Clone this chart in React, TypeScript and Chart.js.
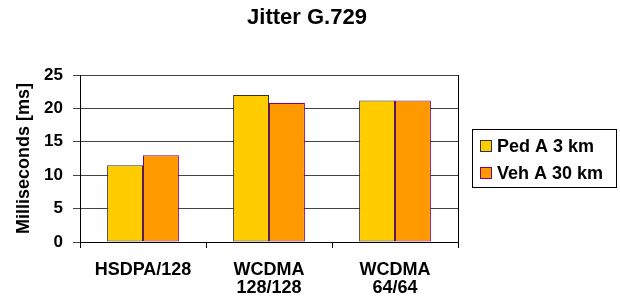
import { useEffect, useRef } from "react";
import { Chart, registerables } from "chart.js";

Chart.register(...registerables);

const categories = [["HSDPA/128"], ["WCDMA", "128/128"], ["WCDMA", "64/64"]];
const seriesNames = ["Ped A 3 km", "Veh A 30 km"];
const pedA = [11.5, 22.0, 21.2];
const vehA = [13.0, 20.8, 21.2];
const yMin = 0;
const yMax = 25;
const yStep = 5;
const chartTitle = "Jitter G.729";
const yTitle = "Milliseconds [ms]";

const FONT = '"Liberation Sans", Arial, Helvetica, sans-serif';

export default function App() {
  const ref = useRef<HTMLCanvasElement>(null);

  useEffect(() => {
    if (!ref.current) return;

    const legendPlugin = {
      id: "boxLegend",
      afterDraw(chart: any) {
        const { ctx } = chart;
        const left = 472.5;
        const top = 129.5;
        const w = 144;
        const h = 58;
        ctx.save();
        ctx.fillStyle = "#fff";
        ctx.fillRect(left, top, w, h);
        ctx.strokeStyle = "#000";
        ctx.lineWidth = 1;
        ctx.strokeRect(left, top, w, h);
        ctx.font = `bold 18px ${FONT}`;
        ctx.textBaseline = "middle";
        ctx.textAlign = "left";
        chart.data.datasets.forEach((ds: any, i: number) => {
          const cy = top + 16.5 + i * 27;
          ctx.fillStyle = ds.backgroundColor;
          ctx.fillRect(left + 8, cy - 5.5, 11, 11);
          ctx.strokeStyle = ds.borderColor;
          ctx.strokeRect(left + 8, cy - 5.5, 11, 11);
          ctx.fillStyle = "#000";
          ctx.fillText(ds.label, left + 24.5, cy + 1);
        });
        ctx.restore();
      },
    };

    const chart = new Chart(ref.current, {
      type: "bar",
      data: {
        labels: categories,
        datasets: [
          {
            label: seriesNames[0],
            data: pedA,
            backgroundColor: "#FFCC00",
            borderColor: "#333333",
            borderWidth: 1,
          },
          {
            label: seriesNames[1],
            data: vehA,
            backgroundColor: "#FF9900",
            borderColor: "#800080",
            borderWidth: 1,
          },
        ],
      },
      options: {
        responsive: false,
        animation: false,
        devicePixelRatio: 1,
        layout: { padding: { left: 0, right: 6, top: 0, bottom: 0 } },
        datasets: {
          bar: { categoryPercentage: 0.57, barPercentage: 1.0, borderSkipped: false },
        },
        plugins: {
          legend: { display: false },
          tooltip: { enabled: false },
          title: {
            display: true,
            text: chartTitle,
            color: "#000",
            font: { family: FONT, size: 22, weight: "bold" },
            padding: { top: 5, bottom: 43.6 },
          },
        },
        scales: {
          x: {
            afterFit(scale: any) {
              scale.height = 58;
            },
            grid: {
              display: true,
              drawOnChartArea: false,
              offset: true,
              tickLength: 6,
              color: "#000",
            },
            border: { display: true, color: "#000" },
            ticks: {
              color: "#000",
              maxRotation: 0,
              padding: 13,
              font: { family: FONT, size: 18, weight: "bold", lineHeight: 1.0 },
            },
          },
          y: {
            min: yMin,
            max: yMax,
            afterFit(scale: any) {
              scale.width = 80;
            },
            ticks: {
              stepSize: yStep,
              color: "#000",
              padding: 10,
              font: { family: FONT, size: 17, weight: "bold" },
            },
            grid: { color: "#444", tickLength: 7, lineWidth: 1 },
            border: { display: true, color: "#000" },
            title: {
              display: true,
              text: yTitle,
              color: "#000",
              padding: { top: 13, bottom: 0 },
              font: { family: FONT, size: 18, weight: "bold" },
            },
          },
          frame: {
            type: "linear",
            position: "right",
            min: yMin,
            max: yMax,
            afterFit(scale: any) {
              scale.width = 156;
            },
            grid: { display: false },
            ticks: { display: false },
            border: { display: true, color: "#000" },
          },
        },
      },
      plugins: [legendPlugin],
    });

    return () => chart.destroy();
  }, []);

  return (
    <div style={{ position: "fixed", left: 0, top: 0, width: 620, height: 300, background: "#fff" }}>
      <canvas ref={ref} width={620} height={300} style={{ display: "block", width: 620, height: 300 }} />
    </div>
  );
}
